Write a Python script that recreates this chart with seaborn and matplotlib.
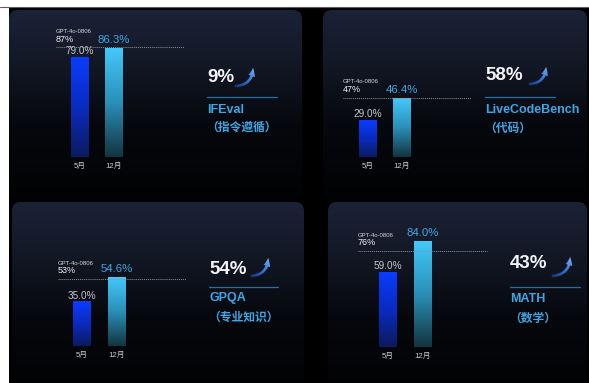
import numpy as np
import pandas as pd
import matplotlib
matplotlib.use("Agg")
import matplotlib.pyplot as plt
import seaborn as sns
from matplotlib.patches import FancyBboxPatch, FancyArrowPatch, Rectangle
from matplotlib.colors import LinearSegmentedColormap

# ---- data -------------------------------------------------------------
benchmarks = ["IFEval", "LiveCodeBench", "GPQA", "MATH"]
benchmarks_cn = ["（指令遵循）", "（代码）", "（专业知识）", "（数学）"]
months = ["5月", "12月"]
may_scores = [79.0, 29.0, 35.0, 59.0]
dec_scores = [86.3, 46.4, 54.6, 84.0]
reference_model = "GPT-4o-0806"
reference_scores = [87, 47, 53, 76]
gains = [9, 58, 54, 43]

# ---- layout (pixels) --------------------------------------------------
W, H = 589, 383
STEP = 34.5          # px between the two bars
PX_PER_PCT = 1.26    # vertical px per percentage point
XL = (-1.0, 3.2)
YL = (0, 100)

panel_boxes = [(9, 10, 293, 190), (323, 10, 264, 190),
               (12, 202, 292, 190), (328, 202, 259, 190)]
bar_layout = [dict(c0=79.5, base=157, ref=(-23.5, 104.5)),
              dict(c0=367.5, base=157, ref=(-24.5, 103.5)),
              dict(c0=82.0, base=346, ref=(-24.0, 104.0)),
              dict(c0=388.0, base=347, ref=(-30.0, 99.0))]
text_layout = [dict(x=207, pct=77, line=97, end=277, name=110, cn=128,
                    arrow=((232, 86), (253, 65))),
               dict(x=485, pct=75, line=97, end=555, name=110, cn=129,
                    arrow=((526, 84), (546, 64))),
               dict(x=209, pct=269, line=287, end=278, name=298, cn=318,
                    arrow=((248, 276), (268, 255))),
               dict(x=510, pct=264, line=287, end=580, name=299, cn=319,
                    arrow=((549, 276), (570, 254)))]

sns.set_theme(style="dark")
plt.rcParams["font.family"] = ["Liberation Sans", "Noto Sans CJK SC"]

LATIN = ["Liberation Sans", "Noto Sans CJK SC"]
BLUE_TEXT = "#3ea6e4"

fig = plt.figure(figsize=(W / 100, H / 100), dpi=100, facecolor="black")

# ---- background: page edge and panel cards ---------------------------
bg = fig.add_axes([0, 0, 1, 1])
bg.set_facecolor("black")
bg.axis("off")
bg.set_xlim(0, W)
bg.set_ylim(H, 0)

bg.add_patch(Rectangle((0, 0), W, 7, color="white", lw=0, zorder=1))
bg.add_patch(Rectangle((0, 7), 8.5, H, color="white", lw=0, zorder=1))
bg.plot([0, W], [7, 7], color="#5e5e5e", lw=0.8, zorder=2)

panel_cmap = LinearSegmentedColormap.from_list(
    "panel", [(0, "#1c2237"), (0.3, "#121724"), (0.6, "#06080d"), (1, "#010203")])
grad = np.linspace(0, 1, 256).reshape(-1, 1)
for (x, y, w, h) in panel_boxes:
    card = FancyBboxPatch((x, y), w, h, boxstyle="round,pad=0,rounding_size=9",
                          fc="none", ec="none")
    bg.add_patch(card)
    bg.imshow(grad, cmap=panel_cmap, extent=(x, x + w, y + h, y),
              aspect="auto", clip_path=card, interpolation="bicubic", zorder=0.5)

# ---- bar colours ------------------------------------------------------
bar_cmaps = [
    LinearSegmentedColormap.from_list("may", ["#0b3cff", "#0a2bc0", "#0b1a5e"]),
    LinearSegmentedColormap.from_list("dec", ["#43c9fb", "#2a8fb8", "#12343f"]),
]
top_colors = ["#0b3cff", "#43c9fb"]
arrow_cmap = LinearSegmentedColormap.from_list(
    "arrow", [(0, "#0a1a40"), (0.45, "#2f6fd0"), (1, "#9fd0ff")])

# ---- the four bar panels ---------------------------------------------
for i, lay in enumerate(bar_layout):
    left = lay["c0"] + XL[0] * STEP
    width = (XL[1] - XL[0]) * STEP
    height = (YL[1] - YL[0]) * PX_PER_PCT
    ax = fig.add_axes([left / W, (H - lay["base"]) / H, width / W, height / H])
    ax.patch.set_alpha(0)

    df = pd.DataFrame({"month": months, "score": [may_scores[i], dec_scores[i]]})
    sns.barplot(data=df, x="month", y="score", hue="month", palette=top_colors,
                width=0.5, saturation=1, legend=False, ax=ax, zorder=3,
                linewidth=0, edgecolor="none")

    for p in list(ax.patches):
        x0, w, h = p.get_x(), p.get_width(), p.get_height()
        k = int(round(x0 + w / 2))
        ax.imshow(grad, cmap=bar_cmaps[k], extent=(x0, x0 + w, 0, h),
                  aspect="auto", clip_path=p, zorder=3.5, interpolation="bicubic")

    # reference model line
    r0, r1 = lay["ref"][0] / STEP, lay["ref"][1] / STEP
    ref = reference_scores[i]
    ax.hlines(ref, r0, r1, colors="#8c919b", linestyles=(0, (1, 1)), lw=0.7, zorder=4)
    ax.annotate(f"{ref}%", xy=(r0, ref), xytext=(0, 6), textcoords="offset points",
                ha="left", va="center", fontsize=6.5, color="#eef0f3", family=LATIN,
                annotation_clip=False)
    ax.annotate(reference_model, xy=(r0, ref), xytext=(0, 11.5), textcoords="offset points",
                ha="left", va="center", fontsize=4.3, color="#d5d8de", family=LATIN,
                annotation_clip=False)

    # value labels
    ax.annotate(f"{may_scores[i]:.1f}%", xy=(0, may_scores[i]), xytext=(0, 4.6),
                textcoords="offset points", ha="center", va="center", fontsize=7.2,
                color="#c3c7cf", annotation_clip=False)
    ax.annotate(f"{dec_scores[i]:.1f}%", xy=(1, dec_scores[i]), xytext=(0, 6.2),
                textcoords="offset points", ha="center", va="center", fontsize=8.2,
                color=BLUE_TEXT, annotation_clip=False)

    ax.set_xlim(*XL)
    ax.set_ylim(*YL)
    ax.set_xlabel("")
    ax.set_ylabel("")
    ax.set_yticks([])
    ax.grid(False)
    for s in ax.spines.values():
        s.set_visible(False)
    ax.tick_params(axis="x", length=0, pad=4.2, labelsize=5.6, labelcolor="#c9ccd3")

# ---- headline gain and benchmark name --------------------------------
diag = np.add.outer(np.linspace(0, 1, 64)[::-1], np.linspace(0, 1, 64)) / 2
for i, t in enumerate(text_layout):
    bg.text(t["x"], t["pct"], f"{gains[i]}%", ha="left", va="center", fontsize=13.5,
            fontweight="bold", color="#f2f4f7", family=LATIN, zorder=5)
    (ax0, ay0), (ax1, ay1) = t["arrow"]
    arrow = FancyArrowPatch((ax0, ay0), (ax1, ay1),
                            connectionstyle="arc3,rad=0.55",
                            arrowstyle="simple,head_length=6,head_width=5,tail_width=1.9",
                            fc="none", ec="none", lw=0, zorder=5)
    bg.add_patch(arrow)
    bg.imshow(diag, cmap=arrow_cmap, extent=(ax0 - 3, ax1 + 5, ay0 + 3, ay1 - 5),
              aspect="auto", clip_path=arrow, interpolation="bicubic", zorder=5)
    bg.plot([t["x"], t["end"]], [t["line"], t["line"]], color="#2a6f9c", lw=0.9, zorder=5)
    bg.text(t["x"], t["name"], benchmarks[i], ha="left", va="center", fontsize=9,
            fontweight="bold", color=BLUE_TEXT, family=LATIN, zorder=5)
    bg.text(t["x"] - 1, t["cn"], benchmarks_cn[i], ha="left", va="center", fontsize=8.5,
            fontweight="bold", color=BLUE_TEXT, family=LATIN, zorder=5)

bg.set_xlim(0, W)
bg.set_ylim(H, 0)

fig.savefig("out.png", dpi=100, facecolor="black")
